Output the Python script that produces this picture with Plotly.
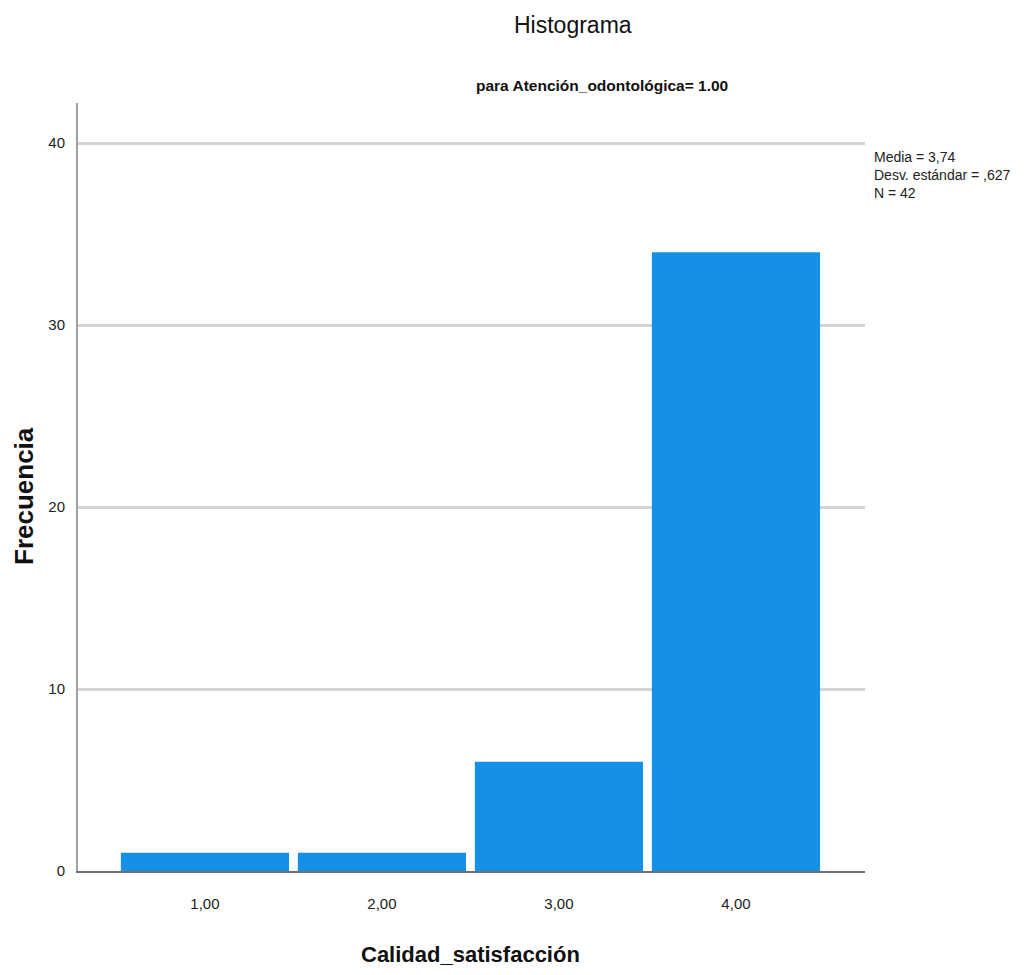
import plotly.graph_objects as go

categories = [1, 2, 3, 4]
tick_labels = ["1,00", "2,00", "3,00", "4,00"]
frequencies = [1, 1, 6, 34]
y_ticks = [0, 10, 20, 30, 40]
stats_lines = ["Media = 3,74", "Desv. estándar = ,627", "N = 42"]

FONT = "Liberation Sans, Arial, sans-serif"

# plot area in page pixels: x 78..865, y 103..871 (page has an 8px body margin)
PW, PH = 787, 768

fig = go.Figure()
fig.add_trace(go.Bar(
    x=categories, y=frequencies, width=0.95,
    marker=dict(color="#1490e6", line=dict(width=0)),
    showlegend=False,
))

fig.update_layout(
    width=1011, height=959,
    margin=dict(l=70, r=1011 - 70 - PW, t=95, b=959 - 95 - PH),
    plot_bgcolor="white", paper_bgcolor="white",
    font=dict(family=FONT, color="#222222", size=15),
    xaxis=dict(
        range=[0.283, 4.729], tickvals=categories, ticktext=tick_labels,
        showgrid=False, zeroline=False, showline=True, linecolor="#707070", linewidth=2,
        ticks="", ticklabelstandoff=18, tickfont=dict(size=15),
    ),
    yaxis=dict(
        range=[0, 42.2], tickvals=y_ticks,
        showgrid=True, gridcolor="#d4d4d4", gridwidth=3,
        zeroline=False, showline=True, linecolor="#a0a0a0", linewidth=2,
        ticks="", ticklabelstandoff=8, tickfont=dict(size=15),
    ),
    annotations=[
        dict(text="Histograma", xref="paper", yref="paper", x=(573 - 78) / PW, y=1 + 78 / PH,
             xanchor="center", yanchor="middle", showarrow=False,
             font=dict(size=23, family=FONT, color="#111111")),
        dict(text="<b>para Atención_odontológica= 1.00</b>", xref="paper", yref="paper",
             x=(602 - 78) / PW, y=1 + 18 / PH, xanchor="center", yanchor="middle", showarrow=False,
             font=dict(size=15.5, family=FONT, color="#111111")),
        dict(text="<b>Calidad_satisfacción</b>", xref="paper", yref="paper",
             x=(470 - 78) / PW, y=-(954 - 871) / PH, xanchor="center", yanchor="middle",
             showarrow=False, font=dict(size=22, family=FONT, color="#111111")),
        dict(text="<b>Frecuencia</b>", xref="paper", yref="paper",
             x=(24 - 78) / PW, y=(871 - 496) / PH, xanchor="center", yanchor="middle",
             textangle=-90, showarrow=False,
             font=dict(size=26, family=FONT, color="#111111")),
        dict(text="<br>".join(stats_lines), xref="paper", yref="paper",
             x=(872 - 78) / PW, y=(871 - 147) / PH, xanchor="left", yanchor="top",
             align="left", showarrow=False,
             font=dict(size=14, family=FONT, color="#222222")),
    ],
)

fig.write_html("out.html")
